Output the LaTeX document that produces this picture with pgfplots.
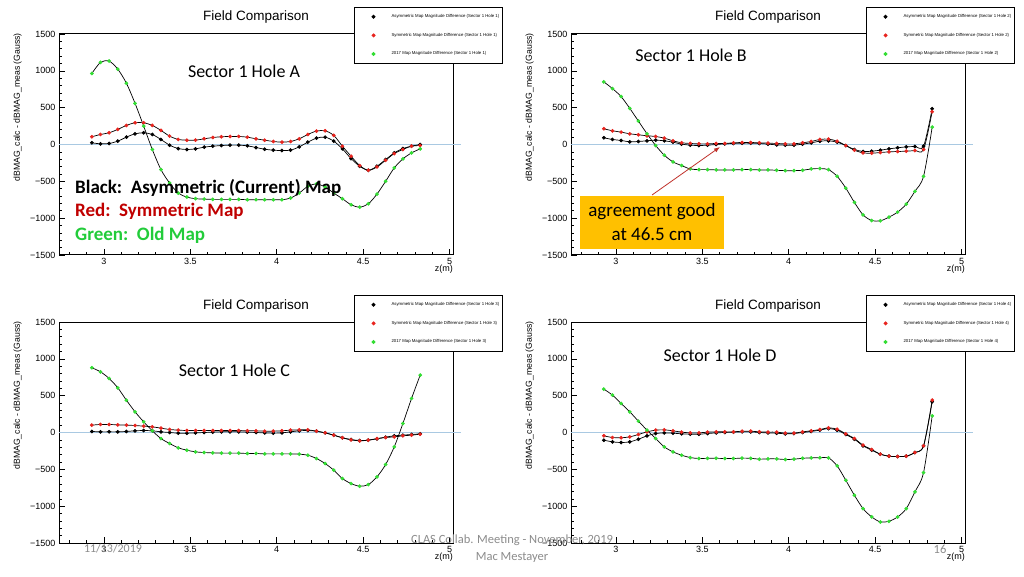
\documentclass[border=0pt]{standalone}
\usepackage{fontspec}
\setmainfont{Liberation Sans}
\newfontfamily\calib{Carlito}
\usepackage{pgfplots}
\pgfplotsset{compat=1.18}
\usepackage{pgfplotstable}
\usetikzlibrary{arrows.meta}

\definecolor{mkred}{HTML}{E8241E}
\definecolor{mkgreen}{HTML}{33DD33}
\definecolor{zeroline}{HTML}{A9C9E2}
\definecolor{boxorange}{HTML}{FFC000}
\definecolor{footgray}{HTML}{8C8C8C}
\definecolor{arrowred}{HTML}{C0302A}
\definecolor{anred}{HTML}{C00000}
\definecolor{angreen}{HTML}{22CC3A}

\pgfplotstableread{
z asym sym old
2.93 23 105 964
2.98 9 136 1114
3.03 14 159 1132
3.08 45 205 1023
3.13 100 259 832
3.18 145 295 559
3.23 159 295 250
3.28 136 259 -68
3.33 68 191 -341
3.38 -9 114 -523
3.43 -55 68 -659
3.48 -68 59 -714
3.53 -59 59 -736
3.58 -36 77 -741
3.63 -23 95 -745
3.68 -14 105 -745
3.73 -9 109 -745
3.78 -9 109 -745
3.83 -18 100 -750
3.88 -41 77 -750
3.93 -64 59 -750
3.98 -77 41 -750
4.03 -82 32 -750
4.08 -77 41 -727
4.13 -32 77 -659
4.18 32 136 -568
4.23 86 182 -536
4.28 100 186 -577
4.33 45 123 -659
4.38 -59 -23 -736
4.43 -191 -159 -818
4.48 -295 -286 -850
4.53 -350 -350 -805
4.58 -295 -305 -673
4.63 -205 -214 -500
4.68 -114 -123 -318
4.73 -55 -68 -195
4.78 -23 -23 -114
4.83 0 -14 -59
}\dataA

\pgfplotstableread{
z asym sym old
2.93 91 214 850
2.98 68 186 759
3.03 55 168 650
3.08 36 145 491
3.13 41 132 318
3.18 50 118 145
3.23 59 109 -14
3.28 50 86 -145
3.33 32 50 -236
3.38 5 23 -286
3.43 -9 14 -332
3.48 -14 9 -341
3.53 -9 9 -341
3.58 0 14 -345
3.63 9 14 -345
3.68 14 23 -345
3.73 18 27 -341
3.78 18 27 -341
3.83 14 23 -345
3.88 5 18 -345
3.93 -5 14 -350
3.98 -9 9 -355
4.03 -9 9 -355
4.08 5 23 -350
4.13 23 41 -332
4.18 45 68 -327
4.23 50 73 -341
4.28 32 45 -432
4.33 -14 -14 -591
4.38 -68 -77 -786
4.43 -95 -114 -955
4.48 -91 -118 -1032
4.53 -77 -109 -1036
4.58 -59 -100 -986
4.63 -45 -95 -918
4.68 -32 -91 -809
4.73 -27 -82 -636
4.78 -23 -68 -432
4.83 486 445 236
}\dataB

\pgfplotstableread{
z asym sym old
2.93 14 100 879
2.98 9 109 824
3.03 9 109 734
3.08 9 104 607
3.13 14 100 439
3.18 23 95 281
3.23 27 86 145
3.28 23 77 23
3.33 9 59 -82
3.38 0 41 -149
3.43 -9 32 -208
3.48 -9 27 -240
3.53 -5 27 -263
3.58 0 27 -272
3.63 5 27 -276
3.68 9 27 -280
3.73 9 27 -280
3.78 9 27 -280
3.83 5 23 -285
3.88 0 23 -285
3.93 -5 18 -290
3.98 -9 18 -290
4.03 -5 23 -290
4.08 9 32 -290
4.13 23 36 -294
4.18 27 36 -308
4.23 18 18 -353
4.28 -5 -5 -421
4.33 -36 -36 -512
4.38 -72 -72 -625
4.43 -95 -100 -693
4.48 -109 -113 -729
4.53 -104 -104 -707
4.58 -86 -82 -602
4.63 -63 -68 -435
4.68 -45 -59 -195
4.73 -36 -45 122
4.78 -27 -36 462
4.83 -18 -23 779
}\dataC

\pgfplotstableread{
z asym sym old
2.93 -104 -45 589
2.98 -127 -68 507
3.03 -136 -72 394
3.08 -127 -59 281
3.13 -91 -27 154
3.18 -45 9 32
3.23 -14 32 -82
3.28 -5 36 -195
3.33 -9 23 -263
3.38 -18 5 -308
3.43 -23 -5 -340
3.48 -23 -5 -353
3.53 -14 5 -350
3.58 -5 9 -350
3.63 0 9 -353
3.68 5 9 -353
3.73 9 18 -348
3.78 9 18 -350
3.83 0 9 -362
3.88 -5 5 -358
3.93 -9 5 -358
3.98 -18 -9 -367
4.03 -14 -9 -362
4.08 0 9 -350
4.13 14 23 -344
4.18 32 40 -344
4.23 54 63 -344
4.28 32 45 -453
4.33 -27 -18 -648
4.38 -91 -82 -852
4.43 -181 -172 -1033
4.48 -240 -231 -1146
4.53 -294 -294 -1214
4.58 -322 -322 -1205
4.63 -326 -326 -1146
4.68 -322 -322 -1033
4.73 -272 -272 -806
4.78 -181 -181 -544
4.83 417 439 226
}\dataD

\pgfplotsset{
  legmark/.style={legend image code/.code={\path[draw=none,fill=none] (0pt,-2pt) rectangle (30pt,2pt); \fill[#1] (13pt,0pt) circle (1.5pt);}},
  rootax/.style={
    width=394pt, height=221pt, scale only axis,
    xmin=2.74, xmax=5.02, ymin=-1500, ymax=1500,
    axis line style={line width=1pt},
    tick pos=left, tick align=inside,
    major tick length=6pt, minor tick length=3pt,
    every tick/.style={black, line width=0.6pt},
    xtick={3,3.5,4,4.5,5}, xticklabels={3,3.5,4,4.5,5},
    minor xtick={2.8,2.9,3.1,3.2,3.3,3.4,3.6,3.7,3.8,3.9,4.1,4.2,4.3,4.4,4.6,4.7,4.8,4.9},
    ytick={-1500,-1000,-500,0,500,1000,1500},
    yticklabels={−1500,−1000,−500,0,500,1000,1500},
    minor y tick num=4,
    ticklabel style={font=\fontsize{9}{10}\selectfont},
    xlabel={z(m)},
    xlabel style={at={(axis description cs:1,0)}, anchor=north east, yshift=-10pt, inner sep=0pt, font=\fontsize{9}{10}\selectfont},
    ylabel={dBMAG\_calc - dBMAG\_meas (Gauss)},
    ylabel style={at={(axis description cs:-0.094,1.005)}, anchor=south east, inner sep=0pt, font=\fontsize{8.7}{9}\selectfont},
    title={Field Comparison},
    title style={at={(axis description cs:0.5,1)}, anchor=base, yshift=7pt, font=\fontsize{13.5}{15}\selectfont},
    clip=false,
    legend cell align=left,
    legend style={at={(0.749,1.122)}, anchor=north west, draw=black, line width=0.9pt, fill=white,
      font=\fontsize{4.3}{5}\selectfont, row sep=12pt, inner xsep=6pt, inner ysep=6pt,
      nodes={inner sep=1pt}},
  },
  asym/.style={black, line width=0.7pt, smooth, mark=*, mark size=1.5pt, mark options={draw=black, fill=black}, forget plot},
  symm/.style={black, line width=0.7pt, smooth, mark=*, mark size=1.5pt, mark options={draw=mkred, fill=mkred}, forget plot},
  oldm/.style={black, line width=0.7pt, smooth, mark=*, mark size=1.5pt, mark options={draw=mkgreen, fill=mkgreen}, forget plot},
}

\newcommand{\legtxt}[1]{\makebox[104pt][l]{#1}}

\begin{document}
\begin{tikzpicture}
\fill[white] (0pt,0pt) rectangle (1024pt,576pt);
\path[use as bounding box] (0pt,0pt) rectangle (1024pt,576pt);

% Panel A
\begin{axis}[rootax, at={(59pt,321pt)}, anchor=south west]
\addlegendimage{legmark=black}\addlegendentry{\legtxt{Asymmetric Map Magnitude Difference (Sector 1 Hole 1)}}
\addlegendimage{legmark=mkred}\addlegendentry{\legtxt{Symmetric Map Magnitude Difference (Sector 1 Hole 1)}}
\addlegendimage{legmark=mkgreen}\addlegendentry{\legtxt{2017 Map Magnitude Difference (Sector 1 Hole 1)}}
\addplot[zeroline, line width=0.8pt, forget plot] coordinates {(2.74,0) (5.065,0)};
\addplot[asym] table[x=z, y=asym] {\dataA};
\addplot[symm] table[x=z, y=sym] {\dataA};
\addplot[oldm] table[x=z, y=old] {\dataA};
\end{axis}

% Panel B
\begin{axis}[rootax, at={(571pt,321pt)}, anchor=south west]
\addlegendimage{legmark=black}\addlegendentry{\legtxt{Asymmetric Map Magnitude Difference (Sector 1 Hole 2)}}
\addlegendimage{legmark=mkred}\addlegendentry{\legtxt{Symmetric Map Magnitude Difference (Sector 1 Hole 2)}}
\addlegendimage{legmark=mkgreen}\addlegendentry{\legtxt{2017 Map Magnitude Difference (Sector 1 Hole 2)}}
\addplot[zeroline, line width=0.8pt, forget plot] coordinates {(2.74,0) (5.065,0)};
\addplot[asym] table[x=z, y=asym] {\dataB};
\addplot[symm] table[x=z, y=sym] {\dataB};
\addplot[oldm] table[x=z, y=old] {\dataB};
\end{axis}

% Panel C
\begin{axis}[rootax, at={(59pt,33pt)}, anchor=south west]
\addlegendimage{legmark=black}\addlegendentry{\legtxt{Asymmetric Map Magnitude Difference (Sector 1 Hole 3)}}
\addlegendimage{legmark=mkred}\addlegendentry{\legtxt{Symmetric Map Magnitude Difference (Sector 1 Hole 3)}}
\addlegendimage{legmark=mkgreen}\addlegendentry{\legtxt{2017 Map Magnitude Difference (Sector 1 Hole 3)}}
\addplot[zeroline, line width=0.8pt, forget plot] coordinates {(2.74,0) (5.065,0)};
\addplot[asym] table[x=z, y=asym] {\dataC};
\addplot[symm] table[x=z, y=sym] {\dataC};
\addplot[oldm] table[x=z, y=old] {\dataC};
\end{axis}

% Panel D
\begin{axis}[rootax, at={(571pt,33pt)}, anchor=south west]
\addlegendimage{legmark=black}\addlegendentry{\legtxt{Asymmetric Map Magnitude Difference (Sector 1 Hole 4)}}
\addlegendimage{legmark=mkred}\addlegendentry{\legtxt{Symmetric Map Magnitude Difference (Sector 1 Hole 4)}}
\addlegendimage{legmark=mkgreen}\addlegendentry{\legtxt{2017 Map Magnitude Difference (Sector 1 Hole 4)}}
\addplot[zeroline, line width=0.8pt, forget plot] coordinates {(2.74,0) (5.065,0)};
\addplot[asym] table[x=z, y=asym] {\dataD};
\addplot[symm] table[x=z, y=sym] {\dataD};
\addplot[oldm] table[x=z, y=old] {\dataD};
\end{axis}

% Annotations
\node[font=\calib\fontsize{18}{20}\selectfont] at (244pt,505pt) {Sector 1 Hole A};
\node[font=\calib\fontsize{18}{20}\selectfont] at (691pt,521pt) {Sector 1 Hole B};
\node[font=\calib\fontsize{18}{20}\selectfont] at (234.5pt,206pt) {Sector 1 Hole C};
\node[font=\calib\fontsize{18}{20}\selectfont] at (720pt,221pt) {Sector 1 Hole D};

\node[anchor=west, inner sep=0pt, font=\calib\bfseries\fontsize{19}{21}\selectfont, black] at (75pt,388pt) {Black:\ \ Asymmetric (Current) Map};
\node[anchor=west, inner sep=0pt, font=\calib\bfseries\fontsize{19}{21}\selectfont, anred] at (75pt,365pt) {Red:\ \ Symmetric Map};
\node[anchor=west, inner sep=0pt, font=\calib\bfseries\fontsize{19}{21}\selectfont, angreen] at (75pt,341pt) {Green:\ \ Old Map};

\fill[boxorange] (579.7pt,327pt) rectangle (724pt,380pt);
\node[font=\calib\fontsize{19}{21}\selectfont] at (652pt,364pt) {agreement good};
\node[font=\calib\fontsize{19}{21}\selectfont] at (652pt,342pt) {at 46.5 cm};
\draw[arrowred, line width=0.8pt, -{Latex[length=6pt,width=4.5pt]}] (652pt,381pt) -- (720pt,429pt);

% Footer
\node[font=\calib\fontsize{12}{14}\selectfont, footgray] at (113pt,27pt) {11/13/2019};
\node[font=\calib\fontsize{12.5}{14}\selectfont, footgray] at (512pt,36pt) {CLAS Collab. Meeting - November, 2019};
\node[font=\calib\fontsize{12.5}{14}\selectfont, footgray] at (512pt,19pt) {Mac Mestayer};
\node[font=\calib\fontsize{12.5}{14}\selectfont, footgray] at (940pt,27pt) {16};
\end{tikzpicture}
\end{document}
